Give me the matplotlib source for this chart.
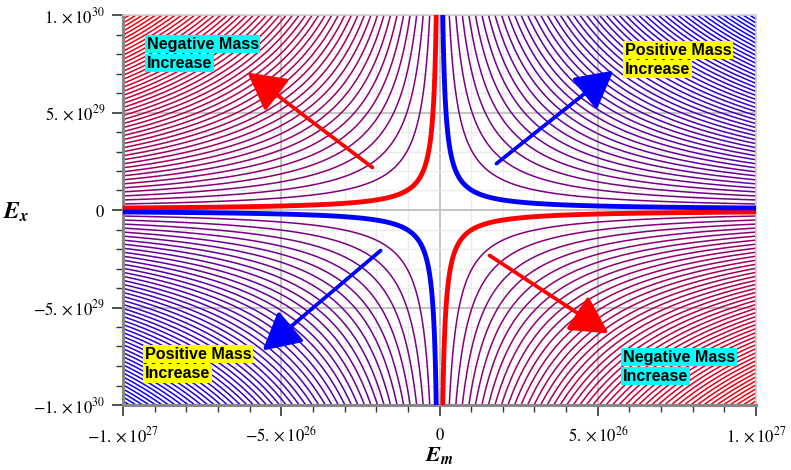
import numpy as np
import matplotlib
matplotlib.use('Agg')
import matplotlib.pyplot as plt
from matplotlib.colors import LinearSegmentedColormap
from matplotlib.ticker import MultipleLocator

plt.rcParams['mathtext.fontset'] = 'stix'

# axis ranges (E_m, E_x)
x_lim = [-1e27, 1e27]
y_lim = [-1e30, 1e30]
x_ticks = [-1e27, -5e26, 0, 5e26, 1e27]
x_tick_labels = [r'$-1.\times10^{27}$', r'$-5.\times10^{26}$', r'$0$', r'$5.\times10^{26}$', r'$1.\times10^{27}$']
y_ticks = [-1e30, -5e29, 0, 5e29, 1e30]
y_tick_labels = [r'$-1.\times10^{30}$', r'$-5.\times10^{29}$', r'$0$', r'$5.\times10^{29}$', r'$1.\times10^{30}$']

# contour levels of E_m*E_x (scaled so that the corner value is 1)
n_levels = 96
levels = [-1 + 2 * i / (n_levels + 1) for i in range(1, n_levels + 1)]
thick_neg = -1 / (n_levels + 1)
thick_pos = 1 / (n_levels + 1)

# arrows: (tail x, tail y, head x, head y, colour), in units of 1e27 / 1e30
arrows = [
    (-0.212, 0.218, -0.607, 0.705, 'red'),
    (0.180, 0.238, 0.550, 0.715, 'blue'),
    (-0.186, -0.208, -0.559, -0.721, 'blue'),
    (0.158, -0.233, 0.534, -0.633, 'red'),
]
# labels: (x, y of first line, first line, second line, box colour)
labels = [
    (-0.925, 0.850, 'Negative Mass', 'Increase', 'cyan'),
    (0.586, 0.820, 'Positive Mass', 'Increase', 'yellow'),
    (-0.931, -0.740, 'Positive Mass', 'Increase', 'yellow'),
    (0.580, -0.755, 'Negative Mass', 'Increase', 'cyan'),
]

fig = plt.figure(figsize=(7.91, 4.70), dpi=100)
ax = fig.add_axes([123 / 791, 1 - 405 / 470, 633 / 791, 390 / 470])

xs = np.linspace(-1, 1, 801)
ys = np.linspace(-1, 1, 801)
X, Y = np.meshgrid(xs, ys)
Z = X * Y
cmap = LinearSegmentedColormap.from_list('rb', ['#ff0000', '#0000ff'])

sx, sy = x_lim[1], y_lim[1]
ax.contour(X * sx, Y * sy, Z, levels=levels, cmap=cmap, vmin=-1, vmax=1,
           linewidths=1.1, linestyles='solid', zorder=2)
ax.contour(X * sx, Y * sy, Z, levels=[thick_neg], colors='#ff0000', linewidths=3.5,
           linestyles='solid', zorder=3)
ax.contour(X * sx, Y * sy, Z, levels=[thick_pos], colors='#0000ff', linewidths=3.5,
           linestyles='solid', zorder=3)

for x0, y0, x1, y1, c in arrows:
    ax.annotate('', xy=(x1 * sx, y1 * sy), xytext=(x0 * sx, y0 * sy),
                arrowprops=dict(arrowstyle='-|>,head_length=1.15,head_width=0.62',
                                color=c, lw=2.7, mutation_scale=20, shrinkA=0, shrinkB=0),
                zorder=5)

for x0, y0, t1, t2, c in labels:
    for k, t in enumerate([t1, t2]):
        ax.text(x0 * sx, (y0 - k * 0.098) * sy, t, fontsize=11.6, fontweight='bold',
                family='Liberation Sans', color='black', va='center', ha='left', zorder=6,
                bbox=dict(boxstyle='square,pad=0.1', fc=c, ec='none'))

ax.set_xlim(x_lim)
ax.set_ylim(y_lim)
ax.set_xticks(x_ticks)
ax.set_xticklabels(x_tick_labels, fontsize=12)
ax.set_yticks(y_ticks)
ax.set_yticklabels(y_tick_labels, fontsize=12)
ax.xaxis.set_minor_locator(MultipleLocator(1e26))
ax.yaxis.set_minor_locator(MultipleLocator(1e29))
ax.tick_params(which='major', length=8, width=1.2, color='#333333')
ax.tick_params(which='minor', length=5, width=1.0, color='#333333')
ax.tick_params(axis='x', which='major', pad=7)
ax.tick_params(axis='y', which='major', pad=5)

ax.grid(which='minor', color='#ececec', lw=1.0, zorder=0)
ax.grid(which='major', color='#c4c4c4', lw=1.4, zorder=0)
ax.set_axisbelow(True)

for s in ['left', 'bottom']:
    ax.spines[s].set_color('#888888')
    ax.spines[s].set_linewidth(2.2)
for s in ['top', 'right']:
    ax.spines[s].set_color('#d0d0d0')
    ax.spines[s].set_linewidth(1.2)

fig.text(440 / 791, 1 - 456 / 470, r'$\mathbfit{E}_{\mathbfit{m}}$', fontsize=16,
         ha='center', va='center')
fig.text(16 / 791, 1 - 212 / 470, r'$\mathbfit{E}_{\mathbfit{x}}$', fontsize=17,
         ha='center', va='center')

fig.savefig('out.png', dpi=100)
